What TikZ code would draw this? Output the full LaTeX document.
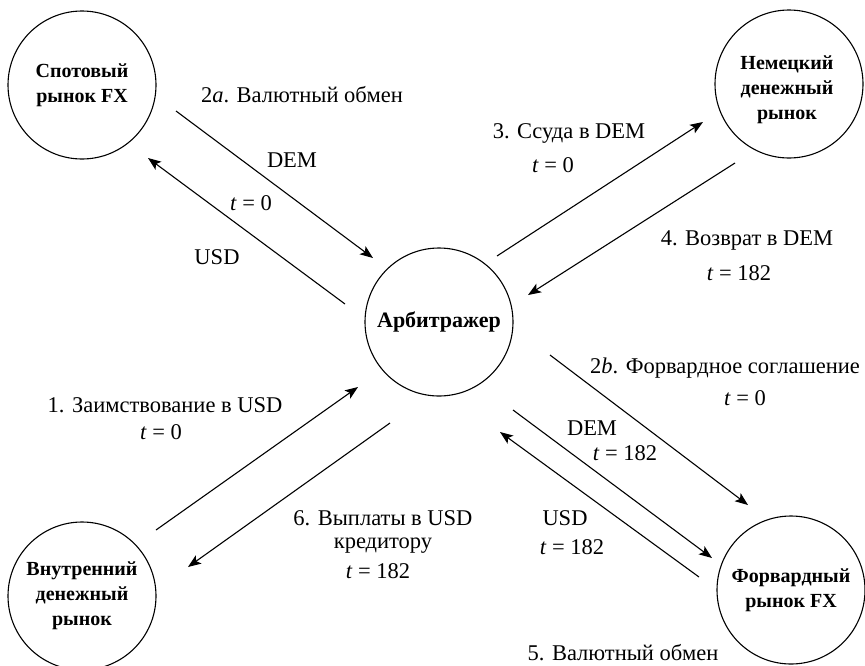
\documentclass[tikz,border=0pt]{standalone}
\usepackage{fontspec}
\setmainfont{Liberation Serif}
\usetikzlibrary{arrows.meta}
\newcommand\tvar{\textit{t}}
\begin{document}
\begin{tikzpicture}[x=1pt,y=-1pt,
  market/.style={circle,draw,line width=1.1pt,minimum size=148pt,inner sep=0pt,
    align=center,font=\fontsize{20}{25}\selectfont\bfseries},
  flow/.style={line width=1.1pt,-{Stealth[length=13pt,width=10pt,inset=3pt]}},
  lbl/.style={inner sep=0pt,align=center,font=\fontsize{22.5}{23}\selectfont}]
\useasboundingbox (0,0) rectangle (865,665);

% markets
\node[market] (spot) at (82,85)  {Спотовый\\рынок FX};
\node[market] (dem)  at (789,84) {};
\node[inner sep=0pt,align=center,font=\fontsize{20}{25}\selectfont\bfseries]
  (demtext) at (787,90) {Немецкий\\денежный\\рынок};
\node[market,font=\fontsize{22}{25}\selectfont\bfseries] (arb) at (439,322) {Арбитражер};
\node[market] (dom)  at (82,596) {Внутренний\\денежный\\рынок};
\node[market] (fwd)  at (791,590) {Форвардный\\рынок FX};

% spot exchange
\draw[flow] ([shift={(94,26)}]spot.center) -- ([shift={(-66,-64)}]arb.center);
\draw[flow] ([shift={(-94,-18)}]arb.center) -- ([shift={(66,73)}]spot.center);
% DEM loan and repayment
\draw[flow] ([shift={(58,-66)}]arb.center) -- ([shift={(-86,38)}]dem.center);
\draw[flow] ([shift={(-54,79)}]dem.center) -- ([shift={(89,-27)}]arb.center);
% USD borrowing and payment
\draw[flow] ([shift={(74,-66)}]dom.center) -- ([shift={(-81,65)}]arb.center);
\draw[flow] ([shift={(-49,101)}]arb.center) -- ([shift={(106,-29)}]dom.center);
% forward contract
\draw[flow] ([shift={(111,33)}]arb.center) -- ([shift={(-43,-85)}]fwd.center);
\draw[flow] ([shift={(74,88)}]arb.center) -- ([shift={(-79,-32)}]fwd.center);
\draw[flow] ([shift={(-92,-13)}]fwd.center) -- ([shift={(61,110)}]arb.center);

% labels
\node[lbl] (l2a)  at (302,95)  {2\textit{a}. Валютный обмен};
\node[lbl] (l2aD) at (292,160) {DEM};
\node[lbl] (l2aT) at (251,203) {\tvar{} = 0};
\node[lbl] (l2aU) at (217,257) {USD};
\node[lbl] (l3)   at (569,133) {3. Ссуда в DEM};
\node[lbl] (l3T)  at (553,165) {\tvar{} = 0};
\node[lbl] (l4)   at (747,240) {4. Возврат в DEM};
\node[lbl] (l4T)  at (739,273) {\tvar{} = 182};
\node[lbl] (l1)   at (165,405) {1. Заимствование в USD};
\node[lbl] (l1T)  at (161,432) {\tvar{} = 0};
\node[lbl] (l6)   at (383,532) {6. Выплаты в USD\\кредитору};
\node[lbl] (l6T)  at (378,571) {\tvar{} = 182};
\node[lbl] (l2b)  at (725,368) {2\textit{b}. Форвардное соглашение};
\node[lbl] (l2bT) at (745,398) {\tvar{} = 0};
\node[lbl] (l5D)  at (592,428) {DEM};
\node[lbl] (l5DT) at (625,453) {\tvar{} = 182};
\node[lbl] (l5U)  at (565,518) {USD};
\node[lbl] (l5UT) at (572,547) {\tvar{} = 182};
\node[lbl] (l5)   at (623,653) {5. Валютный обмен};
\end{tikzpicture}
\end{document}
